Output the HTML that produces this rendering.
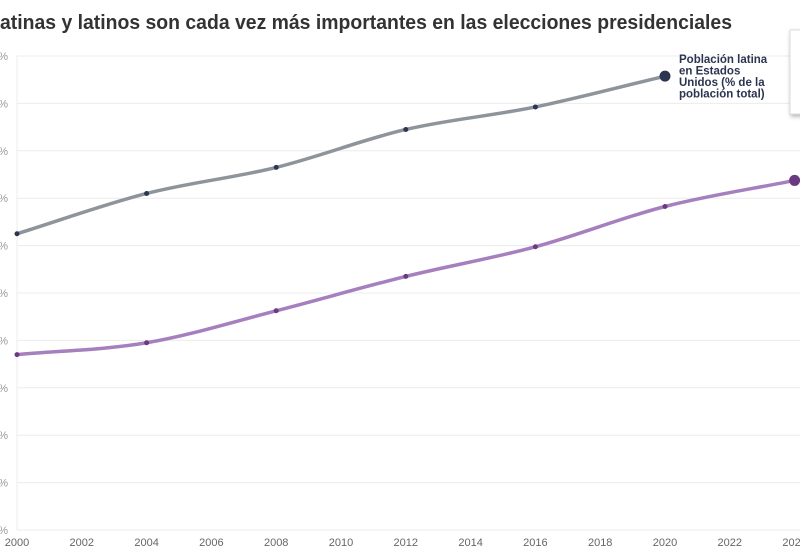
<!DOCTYPE html>
<html><head><meta charset="utf-8"><style>
html,body{margin:0;padding:0;background:#fff;overflow:hidden}
svg{display:block;font-family:"Liberation Sans",sans-serif}
</style></head><body>
<svg id="chart" width="800" height="550" viewBox="0 0 800 550">
<text x="0" y="29" font-size="20" font-weight="bold" fill="#333" textLength="732" lengthAdjust="spacingAndGlyphs">atinas y latinos son cada vez más importantes en las elecciones presidenciales</text>
<g id="grid"></g>
<g id="series"></g>
<g id="xaxis"></g>
<text x="679" y="63" font-size="11.5" font-weight="bold" fill="#2c3550">
<tspan x="679" dy="0">Población latina</tspan><tspan x="679" dy="11.5">en Estados</tspan><tspan x="679" dy="11.5">Unidos (% de la</tspan><tspan x="679" dy="11.5">población total)</tspan></text>
<rect x="790" y="30" width="14" height="84" fill="#fff" stroke="#ddd" style="filter:drop-shadow(1px 2px 2px rgba(0,0,0,.3))"/>
</svg>
<script>
const years=[2000,2004,2008,2012,2016,2020,2024];
const poblacion=[12.5,14.2,15.3,16.9,17.85,19.15];
const votantes=[7.4,7.9,9.25,10.7,11.95,13.65,14.75];
const yTicks=[0,2,4,6,8,10,12,14,16,18,20];
const xTicks=[2000,2002,2004,2006,2008,2010,2012,2014,2016,2018,2020,2022,2024];
const NS="http://www.w3.org/2000/svg";
const x=v=>17+(v-2000)*32.4;
const y=v=>530-v*23.7;
function mk(t,a,p){const e=document.createElementNS(NS,t);for(const k in a)e.setAttribute(k,a[k]);p.appendChild(e);return e;}
const grid=document.getElementById('grid');
yTicks.forEach(t=>{
 const l=mk('line',{x1:17,x2:800,y1:y(t),y2:y(t),stroke:'#ececec','stroke-width':1},grid);
 
 
 const tx=mk('text',{x:8,y:y(t)+4,'font-size':11,fill:'#999','text-anchor':'end'},grid);
 tx.textContent=t+'%';
 
 
});
mk('line',{x1:17,x2:17,y1:y(20),y2:530,stroke:'#ececec'},grid);
const xa=document.getElementById('xaxis');
xTicks.forEach(t=>{
 const tx=mk('text',{x:x(t),y:546,'font-size':11,fill:'#666','text-anchor':'middle'},xa);
 tx.textContent=t;
 
 
});
function monotone(pts){
 const n=pts.length;if(n<2)return '';
 const d=[],m=[];
 for(let i=0;i<n-1;i++)d.push((pts[i+1][1]-pts[i][1])/(pts[i+1][0]-pts[i][0]));
 m[0]=d[0];m[n-1]=d[n-2];
 for(let i=1;i<n-1;i++)m[i]=d[i-1]*d[i]<=0?0:(d[i-1]+d[i])/2;
 let s=`M${pts[0][0]},${pts[0][1]}`;
 for(let i=0;i<n-1;i++){const h=(pts[i+1][0]-pts[i][0])/3;
  s+=` C${pts[i][0]+h},${pts[i][1]+m[i]*h} ${pts[i+1][0]-h},${pts[i+1][1]-m[i+1]*h} ${pts[i+1][0]},${pts[i+1][1]}`;}
 return s;
}
const sg=document.getElementById('series');
function draw(vals,line,dot,name){
 const pts=vals.map((v,i)=>[x(years[i]),y(v)]);
 const p=mk('path',{d:monotone(pts),fill:'none',stroke:line,'stroke-width':3.5,'stroke-linecap':'round'},sg);
 
 
 pts.forEach((q,i)=>{
  const last=i===pts.length-1;
  const c=mk('circle',{cx:q[0],cy:q[1],r:last?5.5:2.5,fill:dot},sg);
  
  
 });
}
draw(poblacion,'#8e949c','#2c3550','poblacion-latina');
draw(votantes,'#a67fbf','#6a3a80','votantes-latinos');
</script>
</body></html>
